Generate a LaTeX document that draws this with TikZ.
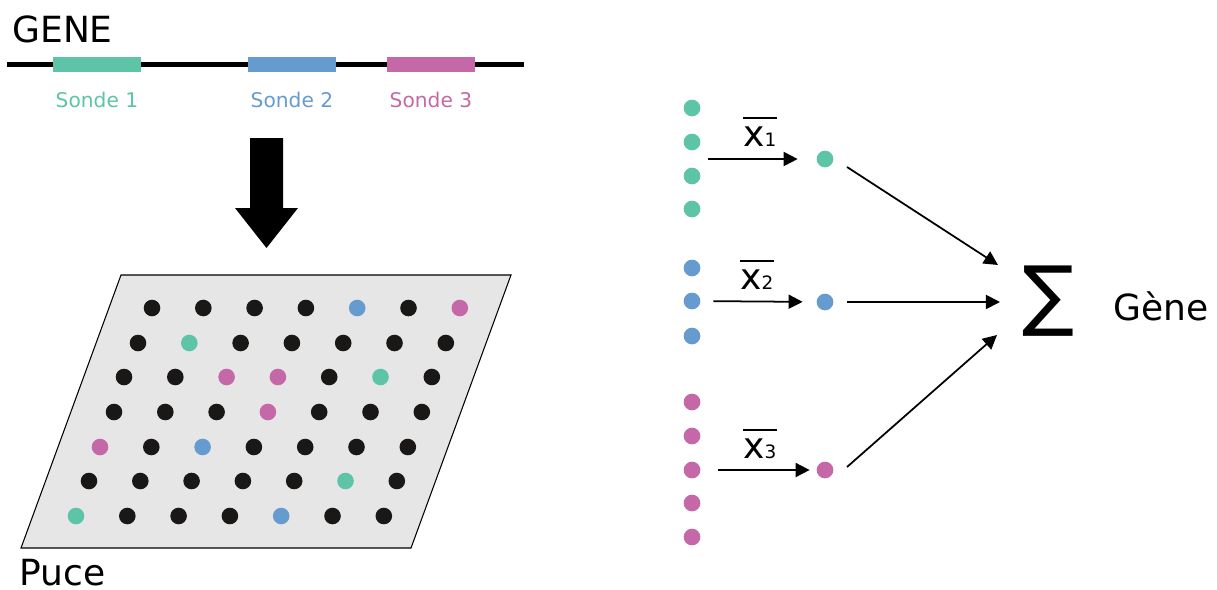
\documentclass[tikz,border=0pt]{standalone}
\usepackage{fontspec}
\setmainfont{DejaVu Sans}
\usetikzlibrary{arrows.meta,calc}
\definecolor{gr}{RGB}{93,196,168}
\definecolor{bl}{RGB}{102,155,207}
\definecolor{pk}{RGB}{196,104,168}
\definecolor{dk}{RGB}{26,23,23}
\definecolor{chip}{RGB}{230,230,230}
\begin{document}
\begin{tikzpicture}[x=0.02cm,y=-0.02cm,
  dot/.style={circle,inner sep=0pt,minimum size=0.334cm},
  flow/.style={-{Triangle[length=8pt,width=8pt]},line width=1pt},
  probe/.style={line width=8.5pt},
  bigtxt/.style={inner sep=0pt,anchor=base west,font=\fontsize{20.5}{24}\selectfont},
  probetxt/.style={font=\fontsize{11.5}{14}\selectfont},
  xbar/.style={inner sep=0pt,anchor=base west,text height=15.5pt,text depth=0pt,font=\fontsize{20.5}{24}\selectfont}]
\useasboundingbox (0,0) rectangle (1217,589);

% gene with its probes
\node[bigtxt] (gene) at (12,42) {GENE};
\draw[line width=2.3pt] (7,64.5) -- (524,64.5);
\draw[probe,gr] (53,64.5) -- (141,64.5);
\draw[probe,bl] (248,64.5) -- (336,64.5);
\draw[probe,pk] (387,64.5) -- (475,64.5);
\node[probetxt,text=gr] (s1) at (97,100) {Sonde 1};
\node[probetxt,text=bl] (s2) at (292,100) {Sonde 2};
\node[probetxt,text=pk] (s3) at (431,100) {Sonde 3};

% big arrow down
\fill (250,138) -- (283,138) -- (283,208) -- (298,208) -- (266.5,248) -- (235,208) -- (250,208) -- cycle;

% chip
\draw[fill=chip,line width=0.6pt] (121,275) -- (511,275) -- (411,548) -- (21,548) -- cycle;
\foreach \y/\x/\cols in {308/152/{dk,dk,dk,dk,bl,dk,pk},
                         343/138/{dk,gr,dk,dk,dk,dk,dk},
                         377/124/{dk,dk,pk,pk,dk,gr,dk},
                         412/114/{dk,dk,dk,pk,dk,dk,dk},
                         447/100/{pk,dk,bl,dk,dk,dk,dk},
                         481/89/{dk,dk,dk,dk,dk,gr,dk},
                         516/76/{gr,dk,dk,dk,bl,dk,dk}}
  \foreach \c [count=\i from 0] in \cols
    \fill[fill=\c] (\x+\i*51.3,\y) circle (8.3);
\node[bigtxt] (puce) at (19,585) {Puce};

% probe values and means
\foreach \y [count=\i] in {108,142,176,209} \node[dot,fill=gr] (g\i) at (692,\y) {};
\foreach \y [count=\i] in {268,301,336} \node[dot,fill=bl] (b\i) at (692,\y) {};
\foreach \y [count=\i] in {402,436,470,503,537} \node[dot,fill=pk] (p\i) at (692,\y) {};
\node[dot,fill=gr] (mg) at (825,159) {};
\node[dot,fill=bl] (mb) at (825,302) {};
\node[dot,fill=pk] (mp) at (825,470) {};

\draw[flow,shorten <=9pt,shorten >=10.6pt] ($(g2)!.5!(g3)$) -- (mg);
\draw[flow,shorten <=7.2pt,shorten >=7.8pt] (b2) -- (mb);
\draw[flow,shorten <=10pt,shorten >=3.8pt] (p3) -- (mp);

\node[xbar] (x1) at (743,146) {x{\fontsize{10.5}{12}\selectfont 1}};
\node[xbar] (x2) at (740,289) {x{\fontsize{10.5}{12}\selectfont 2}};
\node[xbar] (x3) at (743,458) {x{\fontsize{10.5}{12}\selectfont 3}};
\foreach \n in {x1,x2,x3} \draw[line width=1.1pt] (\n.north west) -- (\n.north east);

% sum
\node[inner sep=0pt,font=\fontsize{44}{44}\selectfont] (sum) at (1049,301) {∑};
\node[bigtxt] (res) at (1113,320) {Gène};
\draw[flow] ([shift={(22,8)}]mg.center) -- ([shift={(-51,-36)}]sum.center);
\draw[flow] ([shift={(22,0)}]mb.center) -- ([shift={(-49,1)}]sum.center);
\draw[flow] ([shift={(22,-3)}]mp.center) -- ([shift={(-52,34)}]sum.center);
\end{tikzpicture}
\end{document}
